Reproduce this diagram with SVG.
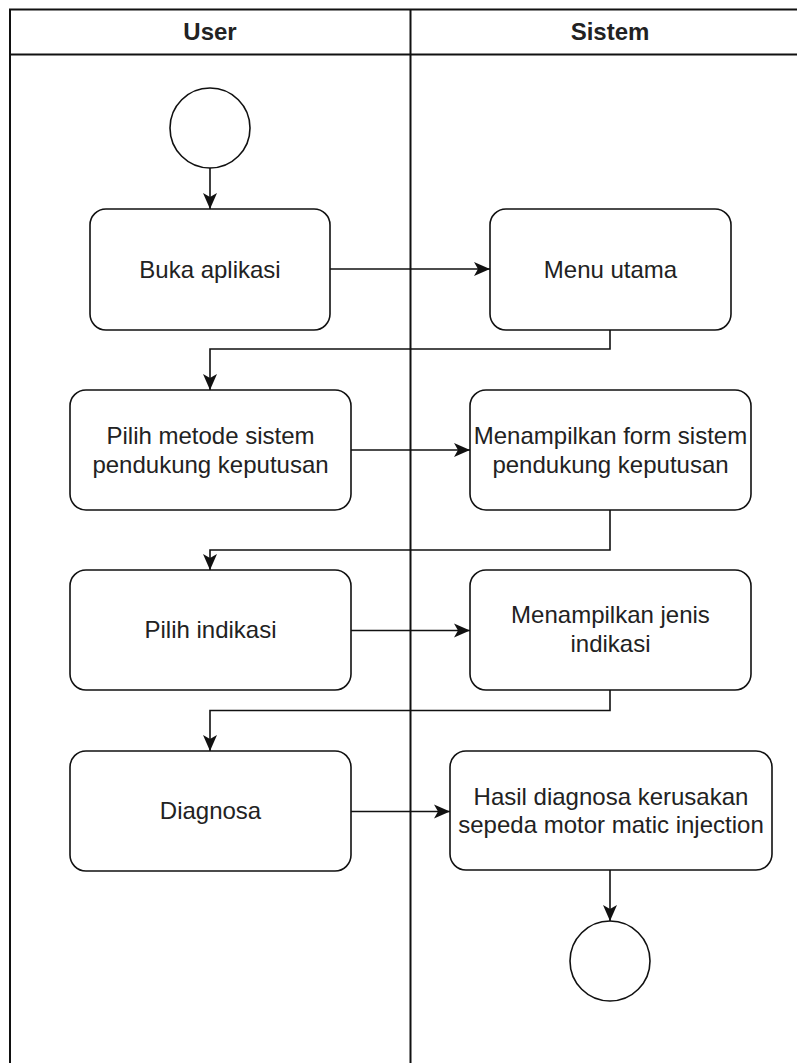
<svg xmlns="http://www.w3.org/2000/svg" width="797" height="1063" viewBox="0 0 797 1063">
<style>
.lane{fill:none;stroke:#111;stroke-width:2}
.box{fill:#fff;stroke:#111;stroke-width:1.6}
.t{font-family:"Liberation Sans",Arial,sans-serif;font-size:24px;fill:#222;text-anchor:middle}
.h{font-family:"Liberation Sans",Arial,sans-serif;font-size:24px;font-weight:bold;fill:#222;text-anchor:middle}
.c{fill:none;stroke:#111;stroke-width:1.6}
</style>
<defs>
<marker id="arr" viewBox="0 0 16 16" refX="16" refY="8" markerWidth="16" markerHeight="16" markerUnits="userSpaceOnUse" orient="auto">
<path d="M0,1 L16,8 L0,15 L4,8 z" fill="#111"/>
</marker>
</defs>
<rect width="797" height="1063" fill="#fff"/>
<g id="swimlane">
<path class="lane" d="M10,1070 L10,9.5 L812,9.5 M10,54.5 L812,54.5 M410.5,9.5 L410.5,1070"/>
<text class="h" x="210" y="40">User</text>
<text class="h" x="610" y="40">Sistem</text>
</g>
<g id="start"><circle class="box" cx="210" cy="128" r="40"/></g>
<g id="buka"><rect class="box" x="90" y="209" width="240" height="121" rx="16"/><text class="t" x="210" y="278">Buka aplikasi</text></g>
<g id="menu"><rect class="box" x="490" y="209" width="241" height="121" rx="16"/><text class="t" x="610.5" y="278">Menu utama</text></g>
<g id="pilihmetode"><rect class="box" x="70" y="390" width="281" height="120" rx="16"/><text class="t" x="210.5" y="444">Pilih metode sistem</text><text class="t" x="210.5" y="473">pendukung keputusan</text></g>
<g id="formspk"><rect class="box" x="470" y="390" width="281" height="120" rx="16"/><text class="t" x="610.5" y="444">Menampilkan form sistem</text><text class="t" x="610.5" y="473">pendukung keputusan</text></g>
<g id="pilihindikasi"><rect class="box" x="70" y="570" width="281" height="120" rx="16"/><text class="t" x="210.5" y="638">Pilih indikasi</text></g>
<g id="jenisindikasi"><rect class="box" x="470" y="570" width="281" height="120" rx="16"/><text class="t" x="610.5" y="623">Menampilkan jenis</text><text class="t" x="610.5" y="652">indikasi</text></g>
<g id="diagnosa"><rect class="box" x="70" y="751" width="281" height="120" rx="16"/><text class="t" x="210.5" y="819">Diagnosa</text></g>
<g id="hasil"><rect class="box" x="450" y="751" width="322" height="119" rx="16"/><text class="t" x="611" y="805">Hasil diagnosa kerusakan</text><text class="t" x="611" y="833">sepeda motor matic injection</text></g>
<g id="end"><circle class="box" cx="610" cy="961" r="40"/></g>
<g id="connectors">
<path class="c" d="M210,168 L210,209" marker-end="url(#arr)"/>
<path class="c" d="M330,269 L490,269" marker-end="url(#arr)"/>
<path class="c" d="M610,330 L610,349 L210,349 L210,390" marker-end="url(#arr)"/>
<path class="c" d="M351,450 L470,450" marker-end="url(#arr)"/>
<path class="c" d="M610,510 L610,550 L210,550 L210,570" marker-end="url(#arr)"/>
<path class="c" d="M351,630.5 L470,630.5" marker-end="url(#arr)"/>
<path class="c" d="M610,690 L610,710.5 L210,710.5 L210,751" marker-end="url(#arr)"/>
<path class="c" d="M351,811.5 L450,811.5" marker-end="url(#arr)"/>
<path class="c" d="M610,870 L610,921" marker-end="url(#arr)"/>
</g>
</svg>
